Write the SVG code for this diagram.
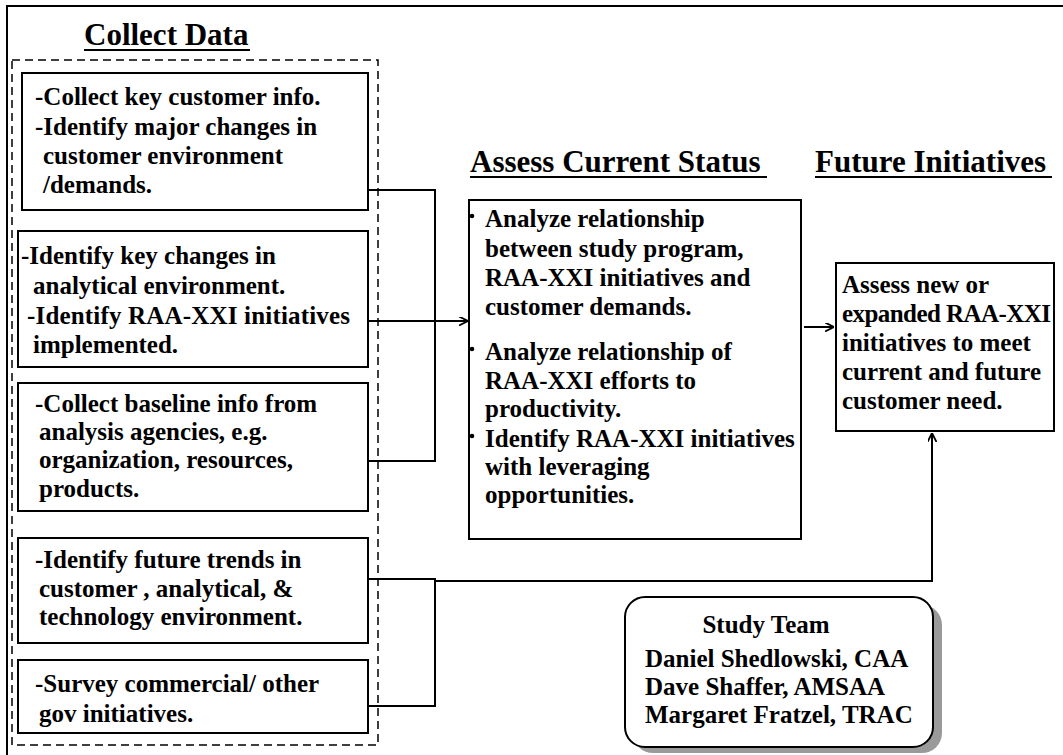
<svg xmlns="http://www.w3.org/2000/svg" width="1063" height="755" viewBox="0 0 1063 755">
<defs>
<style>
.t{font-family:'Liberation Serif','DejaVu Serif',serif;font-weight:700;font-size:25px;fill:#000}
.h{font-family:'Liberation Serif','DejaVu Serif',serif;font-weight:700;font-size:31px;fill:#000}
.box{fill:#fff;stroke:#000;stroke-width:2}
.ln{fill:none;stroke:#000;stroke-width:2}
.ul{stroke:#000;stroke-width:2}
.bul{fill:#000}
</style>
<marker id="ah" viewBox="0 0 10 10" refX="10" refY="5" markerWidth="9" markerHeight="9" markerUnits="userSpaceOnUse" orient="auto">
<path d="M0,0 L10,5 L0,10" fill="none" stroke="#000" stroke-width="2"/>
</marker>
</defs>
<rect width="1063" height="755" fill="#fff"/>
<rect x="7" y="6" width="1080" height="780" fill="none" stroke="#000" stroke-width="2"/>

<g id="collect-data">
<text class="h" x="84" y="45">Collect Data</text>
<line class="ul" x1="84" y1="50" x2="250" y2="50"/>
<rect x="12" y="60" width="366" height="685" fill="none" stroke="#000" stroke-width="1.5" stroke-dasharray="8,5"/>
</g>

<g id="box1">
<rect class="box" x="22" y="73" width="346" height="137"/>
<text class="t" x="35" y="105">-Collect key customer info.</text>
<text class="t" x="35" y="135">-Identify major changes in</text>
<text class="t" x="43" y="164">customer environment</text>
<text class="t" x="43" y="193">/demands.</text>
</g>

<g id="box2">
<rect class="box" x="18" y="231" width="350" height="136"/>
<text class="t" x="21" y="264">-Identify key changes in</text>
<text class="t" x="33" y="294">analytical environment.</text>
<text class="t" x="27" y="324" textLength="323">-Identify RAA-XXI initiatives</text>
<text class="t" x="33" y="353">implemented.</text>
</g>

<g id="box3">
<rect class="box" x="18" y="383" width="350" height="128"/>
<text class="t" x="35" y="412">-Collect baseline info from</text>
<text class="t" x="39" y="440">analysis agencies, e.g.</text>
<text class="t" x="39" y="468">organization, resources,</text>
<text class="t" x="39" y="497">products.</text>
</g>

<g id="box4">
<rect class="box" x="18" y="538" width="350" height="105"/>
<text class="t" x="35" y="568">-Identify future trends in</text>
<text class="t" x="39" y="597">customer , analytical, &amp;</text>
<text class="t" x="39" y="625">technology environment.</text>
</g>

<g id="box5">
<rect class="box" x="18" y="660" width="350" height="73"/>
<text class="t" x="35" y="692">-Survey commercial/ other</text>
<text class="t" x="39" y="722">gov initiatives.</text>
</g>

<g id="assess">
<text class="h" x="470" y="172">Assess Current Status</text>
<line class="ul" x1="470" y1="177" x2="767" y2="177"/>
<rect class="box" x="469" y="200" width="332" height="339"/>
<circle class="bul" cx="472" cy="216" r="2.3"/>
<text class="t" x="485" y="227">Analyze relationship</text>
<text class="t" x="485" y="257">between study program,</text>
<text class="t" x="485" y="286">RAA-XXI initiatives and</text>
<text class="t" x="485" y="315">customer demands.</text>
<circle class="bul" cx="472" cy="349" r="2.3"/>
<text class="t" x="485" y="360">Analyze relationship of</text>
<text class="t" x="485" y="389">RAA-XXI efforts to</text>
<text class="t" x="485" y="417">productivity.</text>
<circle class="bul" cx="472" cy="436" r="2.3"/>
<text class="t" x="485" y="447">Identify RAA-XXI initiatives</text>
<text class="t" x="485" y="475">with leveraging</text>
<text class="t" x="485" y="503">opportunities.</text>
</g>

<g id="future">
<text class="h" x="815" y="172">Future Initiatives</text>
<line class="ul" x1="815" y1="177" x2="1052" y2="177"/>
<rect class="box" x="836" y="263" width="218" height="168"/>
<text class="t" x="842" y="293">Assess new or</text>
<text class="t" x="842" y="322" textLength="209">expanded RAA-XXI</text>
<text class="t" x="842" y="351">initiatives to meet</text>
<text class="t" x="842" y="380">current and future</text>
<text class="t" x="842" y="409">customer need.</text>
</g>

<g id="study-team">
<rect x="633" y="605" width="309" height="148" rx="20" fill="#9a9a9a"/>
<rect x="625" y="597" width="308" height="150" rx="20" fill="#fff" stroke="#000" stroke-width="2"/>
<text class="t" x="766" y="633" text-anchor="middle">Study Team</text>
<text class="t" x="645" y="667">Daniel Shedlowski, CAA</text>
<text class="t" x="645" y="695">Dave Shaffer, AMSAA</text>
<text class="t" x="645" y="723">Margaret Fratzel, TRAC</text>
</g>

<g id="connectors">
<polyline class="ln" points="368,190 435,190 435,461 368,461"/>
<line class="ln" x1="368" y1="321" x2="468" y2="321" marker-end="url(#ah)"/>
<polyline class="ln" points="368,579 435,579 435,706 368,706"/>
<polyline class="ln" points="435,581 932,581 932,433" marker-end="url(#ah)"/>
<line class="ln" x1="804" y1="327" x2="834" y2="327" marker-end="url(#ah)"/>
</g>
</svg>
